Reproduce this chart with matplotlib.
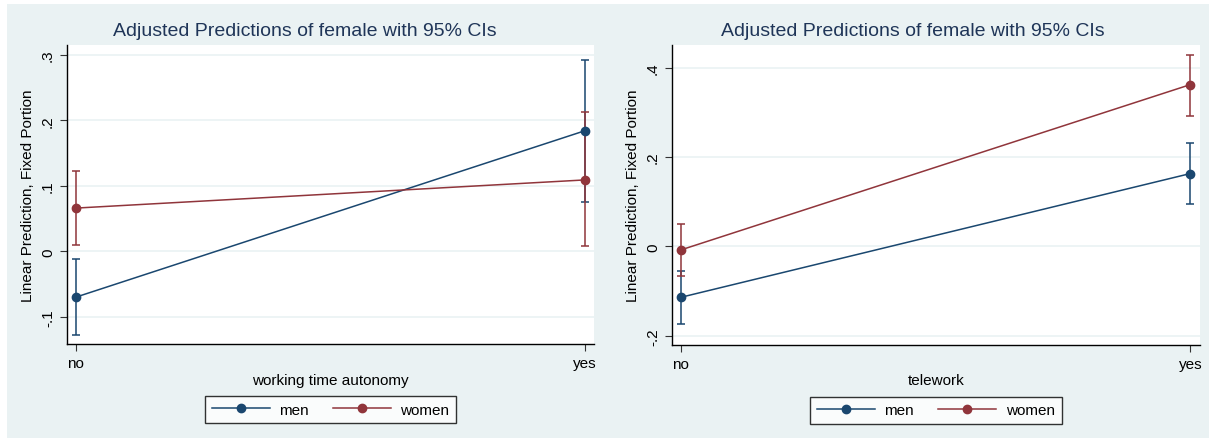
import matplotlib.pyplot as plt
from matplotlib.patches import Rectangle

plt.rcParams['font.family'] = ['Liberation Sans', 'DejaVu Sans']

# data
groups = ['men', 'women']
xcats = ['no', 'yes']

# panel 1: working time autonomy
wta_est = {'men': [-0.070, 0.184], 'women': [0.066, 0.109]}
wta_lo = {'men': [-0.128, 0.076], 'women': [0.010, 0.008]}
wta_hi = {'men': [-0.012, 0.292], 'women': [0.122, 0.212]}
wta_ticks = [-0.1, 0, 0.1, 0.2, 0.3]
wta_ticklabels = ['-.1', '0', '.1', '.2', '.3']

# panel 2: telework
tw_est = {'men': [-0.114, 0.163], 'women': [-0.008, 0.362]}
tw_lo = {'men': [-0.174, 0.094], 'women': [-0.066, 0.292]}
tw_hi = {'men': [-0.055, 0.232], 'women': [0.050, 0.429]}
tw_ticks = [-0.2, 0, 0.2, 0.4]
tw_ticklabels = ['-.2', '0', '.2', '.4']

colors = {'men': '#1a476f', 'women': '#90353b'}
bg = '#eaf2f3'

fig = plt.figure(figsize=(12.09, 4.39), dpi=100, facecolor='white')
fig.patches.append(Rectangle((7 / 1209, 0), 1, 1 - 5 / 439, transform=fig.transFigure,
                             facecolor=bg, edgecolor='none', zorder=-10))


def panel(rect, est, lo, hi, ticks, ticklabels, ylim, xlabel, title_x):
    ax = fig.add_axes(rect)
    ax.set_facecolor('white')
    x = list(range(len(xcats)))
    handles = []
    for g in groups:
        c = colors[g]
        yerr = [[e - l for e, l in zip(est[g], lo[g])], [h - e for e, h in zip(est[g], hi[g])]]
        ax.errorbar(x, est[g], yerr=yerr, fmt='none', ecolor=c, elinewidth=1.1,
                    capsize=3, capthick=1.1, zorder=3)
        h, = ax.plot(x, est[g], color=c, lw=1.1, marker='o', ms=6, zorder=4, label=g)
        handles.append(h)
    ax.set_xlim(-0.0177, 1.019)
    ax.set_ylim(*ylim)
    ax.set_yticks(ticks)
    ax.set_yticklabels(ticklabels, rotation=90, va='center')
    ax.set_xticks(x)
    ax.set_xticklabels(xcats)
    ax.tick_params(axis='both', labelsize=11, length=5, width=0.8, color='#333333')
    ax.yaxis.grid(True, color=bg, lw=1.2)
    ax.set_axisbelow(True)
    for s in ['top', 'right']:
        ax.spines[s].set_visible(False)
    for s in ['left', 'bottom']:
        ax.spines[s].set_linewidth(1.0)
    ax.set_ylabel('Linear Prediction, Fixed Portion', fontsize=11, labelpad=4)
    ax.set_xlabel(xlabel, fontsize=11, labelpad=2)
    ax.set_title('Adjusted Predictions of female with 95% CIs', fontsize=14,
                 color='#1f3558', x=title_x, pad=7)
    leg = ax.legend(handles=handles, loc='upper center', bbox_to_anchor=(0.5, -0.173),
                    ncol=2, frameon=True, fancybox=False, fontsize=11,
                    handlelength=3.8, handletextpad=0.6, columnspacing=1.6,
                    borderaxespad=0, edgecolor='black', borderpad=0.45)
    leg.get_frame().set_linewidth(1.0)
    return ax


panel([0.0552, 0.2141, 0.4364, 0.6811], wta_est, wta_lo, wta_hi,
      wta_ticks, wta_ticklabels, (-0.1415, 0.315), 'working time autonomy', 0.4517)
panel([0.5556, 0.2125, 0.4370, 0.6827], tw_est, tw_lo, tw_hi,
      tw_ticks, tw_ticklabels, (-0.220, 0.4506), 'telework', 0.4568)

plt.savefig('out.png', dpi=100, facecolor=fig.get_facecolor())
